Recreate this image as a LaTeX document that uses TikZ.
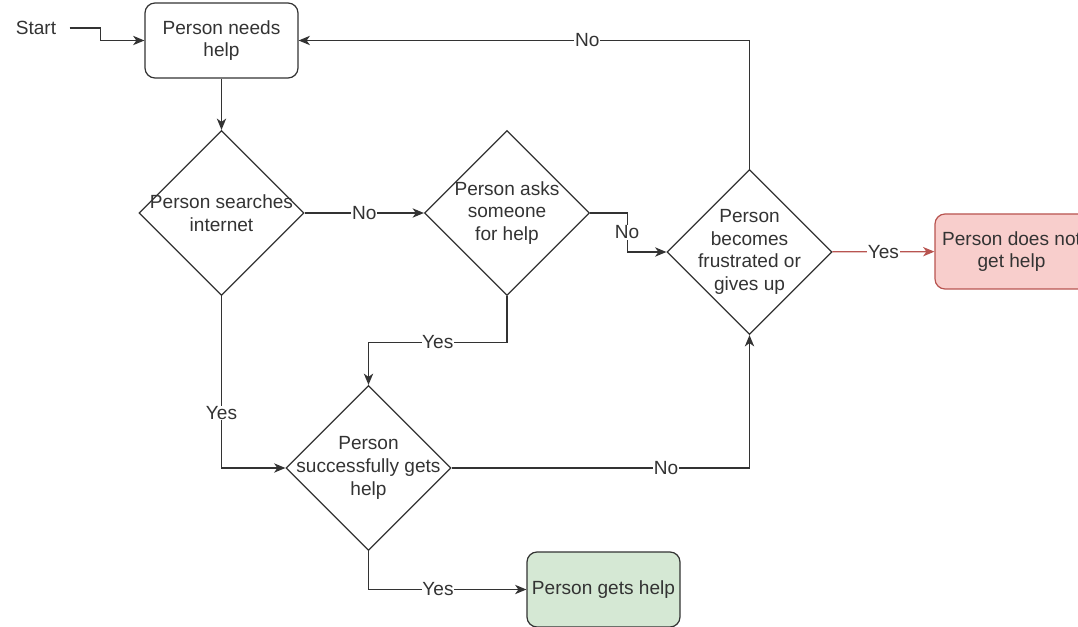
\documentclass[tikz,border=0pt]{standalone}
\usepackage{fontspec}
\setmainfont{Liberation Sans}
\usetikzlibrary{arrows.meta,shapes.geometric}
\definecolor{ink}{HTML}{333333}
\definecolor{redfill}{HTML}{F8CECC}
\definecolor{redline}{HTML}{B85450}
\definecolor{greenfill}{HTML}{D5E8D4}
\begin{document}
\begin{tikzpicture}[x=0.75pt, y=-0.75pt,
  font=\fontsize{14.3}{17}\selectfont, text=ink,
  box/.style={draw=ink, line width=0.9pt, rounded corners=7.5pt, align=center,
    minimum width=114.75pt, minimum height=56.25pt, inner sep=0pt},
  decision/.style={diamond, draw=ink, line width=0.9pt, aspect=1,
    minimum width=123.75pt, minimum height=123.75pt, inner sep=0pt},
  dtext/.style={align=center, text=ink},
  flow/.style={draw=ink, line width=0.9pt, -{Stealth[length=8.5pt,width=7pt,inset=2.5pt]}},
  redflow/.style={flow, draw=redline, -{Stealth[length=8.5pt,width=7pt,inset=2.5pt,color=redline]}},
  lbl/.style={fill=white, inner sep=0.5pt, text=ink}]
  \useasboundingbox (0,0) rectangle (1078,627);
  % Nodes
  \node[inner xsep=10pt] (start) at (36,28) {Start};
  \node[box] (need) at (221.5,40.5) {Person needs\\help};
  \node[decision, label={[dtext]center:Person searches\\internet}] (search) at (221.5,213) {};
  \node[decision, label={[dtext]center:Person asks\\someone\\for help}] (ask) at (507,213) {};
  \node[decision, label={[dtext]center:Person\\becomes\\frustrated or\\gives up}] (frust) at (749.5,252) {};
  \node[box, fill=redfill, draw=redline] (nohelp) at (1011.5,251.5) {Person does not\\get help};
  \node[decision, label={[dtext]center:Person\\successfully gets\\help}] (success) at (368.5,468) {};
  \node[box, fill=greenfill] (gethelp) at (603.5,589.5) {Person gets help};
  % Connectors
  \draw[flow] (start.east) -- ++(31,0) |- (need.west);
  \draw[flow] (need) -- (search);
  \draw[flow] (search) -- node[lbl] {No} (ask);
  \draw[flow] (ask.east) -- ++(37,0) |- node[lbl, pos=0.25] {No} (frust.west);
  \draw[redflow] (frust) -- node[lbl] {Yes} (nohelp);
  \draw[flow] (frust.north) |- node[lbl, pos=0.68] {No} (need.east);
  \draw[flow] (ask.south) -- ++(0,46) -| node[lbl, pos=0.25] {Yes} (success.north);
  \draw[flow] (search.south) |- node[lbl, pos=0.34] {Yes} (success.west);
  \draw[flow] (success.east) -| node[lbl, pos=0.36] {No} (frust.south);
  \draw[flow] (success.south) |- node[lbl, pos=0.72] {Yes} (gethelp.west);
\end{tikzpicture}
\end{document}
